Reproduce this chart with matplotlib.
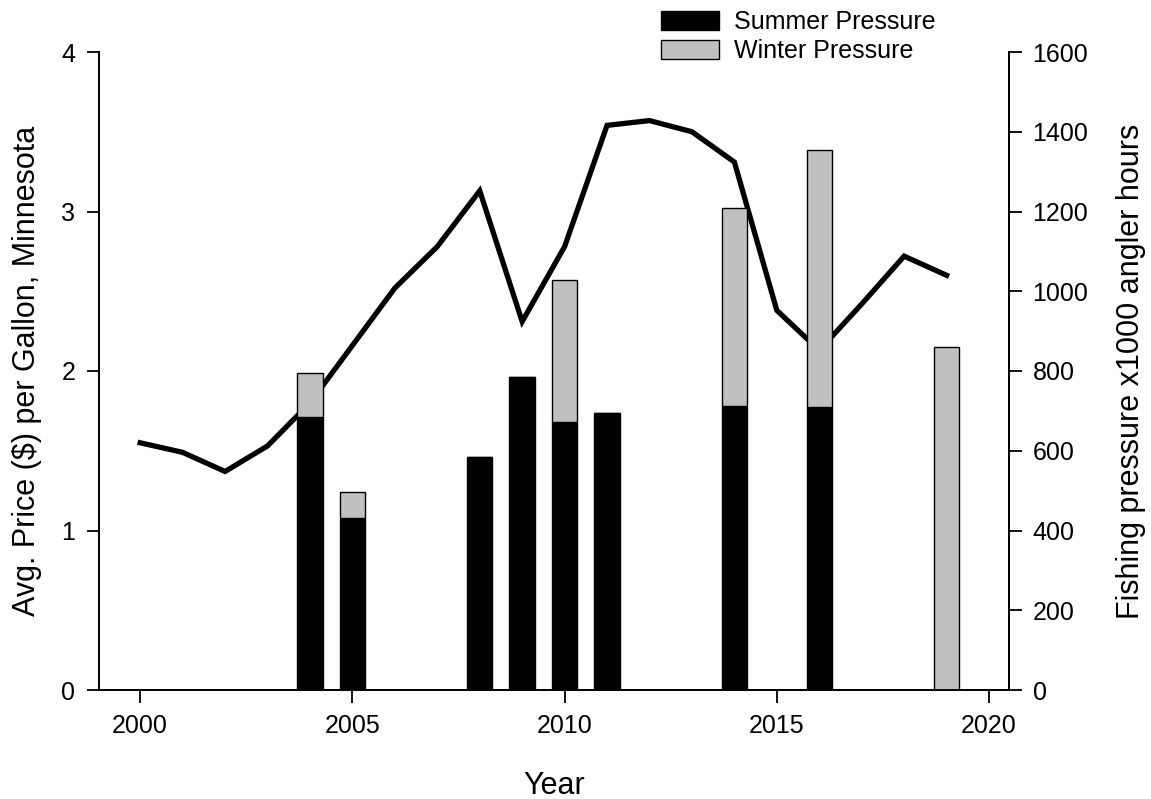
import matplotlib
matplotlib.use("Agg")
import matplotlib.pyplot as plt
from matplotlib.patches import Patch

plt.rcParams["font.family"] = ["Liberation Sans", "DejaVu Sans"]

# === Data ===
price_years = list(range(2000, 2020))
price = [1.55, 1.49, 1.37, 1.53, 1.80, 2.16, 2.52, 2.78, 3.13, 2.31,
         2.78, 3.54, 3.57, 3.50, 3.31, 2.38, 2.13, 2.42, 2.72, 2.60]

bar_years = [2004, 2005, 2008, 2009, 2010, 2011, 2014, 2016, 2019]
summer = [685, 431, 584, 785, 672, 695, 712, 710, 0]
winter = [110, 66, 0, 0, 356, 0, 497, 644, 861]

# === Figure ===
fig = plt.figure(figsize=(11.51, 7.99), dpi=100)
ax1 = fig.add_axes([99 / 1151, 109 / 799, 910 / 1151, 638 / 799])
ax2 = ax1.twinx()

ax1.plot(price_years, price, color="black", linewidth=3.8, solid_joinstyle="miter")

ax2.bar(bar_years, summer, width=0.6, color="black", edgecolor="black", linewidth=1)
ax2.bar(bar_years, winter, width=0.6, bottom=summer, color="#c0c0c0",
        edgecolor="black", linewidth=1)

ax1.set_xlim(1999.03, 2020.47)
ax1.set_ylim(0, 4)
ax2.set_ylim(0, 1600)
ax1.set_xticks([2000, 2005, 2010, 2015, 2020])
ax1.set_yticks([0, 1, 2, 3, 4])
ax2.set_yticks(range(0, 1601, 200))

for ax in (ax1, ax2):
    ax.spines["top"].set_visible(False)
    for s in ax.spines.values():
        s.set_linewidth(1.3)
    ax.tick_params(direction="out", length=9, width=1.3, labelsize=18, pad=8)

ax1.set_xlabel("Year", fontsize=22, labelpad=24)
ax1.set_ylabel("Avg. Price ($) per Gallon, Minnesota", fontsize=22, labelpad=14)
ax2.set_ylabel("Fishing pressure x1000 angler hours", fontsize=22, labelpad=20)

handles = [Patch(facecolor="black", edgecolor="black", label="Summer Pressure"),
           Patch(facecolor="#c0c0c0", edgecolor="black", label="Winter Pressure")]
fig.legend(handles=handles, loc="upper left", bbox_to_anchor=(651 / 1151, 1.0),
           frameon=False, fontsize=18, handlelength=2.3, handleheight=0.8,
           handletextpad=0.6, labelspacing=0.2, borderaxespad=0)

fig.savefig("out.png", dpi=100)
